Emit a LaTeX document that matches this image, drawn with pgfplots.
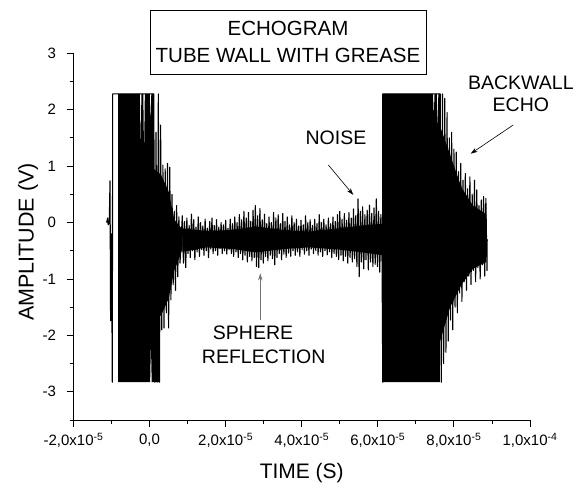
\documentclass[border=0pt]{standalone}
\usepackage{fontspec}
\setmainfont{Liberation Sans}
\usepackage{pgfplots}
\pgfplotsset{compat=1.18}
\usetikzlibrary{arrows.meta}
\newcommand{\annot}{\fontsize{19.5}{22}\selectfont}
\begin{document}
\begin{tikzpicture}[x=1pt,y=1pt]
\useasboundingbox (0,0) rectangle (581,-487);
\begin{axis}[
  at={(73.5pt,-420pt)}, anchor=south west,
  scale only axis, width=456.5pt, height=366.7pt,
  xmin=-20, xmax=100, ymin=-3.5, ymax=3,
  axis x line=bottom, axis y line=left,
  axis line style={-, line width=0.9pt},
  tick align=outside,
  major tick length=7pt, minor tick length=4pt,
  tick style={black, line width=0.9pt},
  xtick={-20,0,20,40,60,80,100},
  xticklabels={{-2,0x10\textsuperscript{-5}},{0,0},{2,0x10\textsuperscript{-5}},{4,0x10\textsuperscript{-5}},{6,0x10\textsuperscript{-5}},{8,0x10\textsuperscript{-5}},{1,0x10\textsuperscript{-4}}},
  minor xtick={-10,10,30,50,70,90},
  ytick={-3,-2,-1,0,1,2,3},
  yticklabels={-3,-2,-1,0,1,2,3},
  minor ytick={-3.5,-2.5,-1.5,-0.5,0.5,1.5,2.5},
  ticklabel style={font=\fontsize{15}{17}\selectfont},
  xticklabel style={yshift=-3pt},
  yticklabel style={xshift=-7pt},
  clip=false,
]
% saturated burst 1 with decay core
\addplot[fill=black, draw=none] coordinates {
(-8.3,-2.83) (-8.3,2.28) (-2.55,2.28) (-2.35,1.3) (-2.15,2.28) (-1.65,2.28) (-1.45,1.15) (-1.25,2.28)
(0.05,2.28) (0.25,1.75) (0.45,2.28) (1.1,2.28) (1.1,0.95) (3,0.85) (5,0.55) (6.5,0.05) (8.6,-0.12)
(8.6,-0.48) (6.5,-0.85) (5,-1.35) (3,-1.65) (2.7,-1.65) (2.7,-2.83) (0.55,-2.83) (0.35,-2.1) (0.15,-2.83)
} --cycle;
% noise core band
\addplot[fill=black, draw=none] coordinates {
(8.6,-0.1) (15,-0.15) (22,-0.13) (28,-0.07) (35,-0.13) (42,-0.16) (50,-0.1) (56,-0.05) (61.3,-0.02)
(61.3,-0.58) (56,-0.53) (50,-0.48) (42,-0.44) (35,-0.47) (28,-0.53) (22,-0.47) (15,-0.44) (8.6,-0.52)
} --cycle;
% saturated burst 2 with decay core
\addplot[fill=black, draw=none] coordinates {
(61.3,-2.83) (61.3,2.28) (74.5,2.28) (74.7,1.85) (74.9,2.28) (75.5,2.28) (75.7,1.6) (75.9,2.28) (76.4,2.28)
(76.4,1.7) (79,1.2) (82,0.62) (85,0.3) (88.5,0.15) (88.5,-0.7) (85,-0.82) (82,-1.1) (79,-1.5) (76.4,-2.1) (76.4,-2.83)
} --cycle;
% signal trace
\addplot[black, line width=1.1pt, line join=round] coordinates {
(-11.3,0) (-11.0,0.08) (-10.9,-0.04) (-10.6,0) (-10.4,0.74) (-10.25,-1.74) (-10.0,-0.2) (-9.8,-2.83) (-9.7,2.28) (-8.3,2.28)
(1.1,2.28) (1.4,-2.83) (1.7,1.6) (2.0,-2.83) (2.3,2.28) (2.6,-2.83) (2.9,1.73) (3.2,-1.9) (3.5,1.02) (3.8,-1.87)
(4.1,0.95) (4.4,-1.6) (4.7,1.05) (5.0,-1.87) (5.3,0.98) (5.6,-1.37) (5.9,0.5) (6.2,-1.1) (6.5,0.2) (6.8,-1.2)
(7.1,0.3) (7.4,-0.96) (7.7,0.1) (8.0,-0.72)
(8.6,0.12) (8.9,-0.72) (9.2,0.02) (9.5,-0.80) (9.8,0.08) (10.1,-0.55) (10.4,-0.05) (10.7,-0.62)
(11.0,0.15) (11.3,-0.50) (11.6,0.05) (11.9,-0.66) (12.2,-0.08) (12.5,-0.52) (12.8,0.10) (13.1,-0.60)
(13.4,0.0) (13.7,-0.48) (14.0,-0.06) (14.3,-0.58) (14.6,0.06) (14.9,-0.50) (15.2,-0.10) (15.5,-0.62)
(15.8,0.02) (16.1,-0.47) (16.4,0.08) (16.7,-0.55) (17.0,-0.05) (17.3,-0.50) (17.6,0.05) (17.9,-0.58)
(18.2,-0.08) (18.5,-0.46) (18.8,0.0) (19.1,-0.55) (19.4,-0.04) (19.7,-0.50) (20.0,0.04) (20.3,-0.56)
(20.6,-0.10) (20.9,-0.48) (21.2,0.06) (21.5,-0.55) (21.8,-0.02) (22.1,-0.60) (22.4,0.10) (22.7,-0.52)
(23.0,0.0) (23.3,-0.62) (23.6,0.14) (23.9,-0.55) (24.2,0.05) (24.5,-0.66) (24.8,0.20) (25.1,-0.58)
(25.4,0.08) (25.7,-0.70) (26.0,0.18) (26.3,-0.60) (26.6,0.02) (26.9,-0.68) (27.2,0.22) (27.5,-0.62)
(27.8,0.30) (28.1,-0.78) (28.4,0.12) (28.7,-0.80) (29.0,0.25) (29.3,-0.66) (29.6,0.05) (29.9,-0.72)
(30.2,0.15) (30.5,-0.60) (30.8,-0.02) (31.1,-0.68) (31.4,0.10) (31.7,-0.58) (32.0,0.0) (32.3,-0.64)
(32.6,0.18) (32.9,-0.75) (33.2,0.08) (33.5,-0.62) (33.8,0.14) (34.1,-0.55) (34.4,-0.02) (34.7,-0.66)
(35.0,0.16) (35.3,-0.56) (35.6,0.02) (35.9,-0.62) (36.2,0.10) (36.5,-0.54) (36.8,-0.04) (37.1,-0.60)
(37.4,0.12) (37.7,-0.50) (38.0,0.0) (38.3,-0.58) (38.6,0.06) (38.9,-0.52) (39.2,-0.06) (39.5,-0.60)
(39.8,0.04) (40.1,-0.48) (40.4,-0.04) (40.7,-0.56) (41.0,0.12) (41.3,-0.50) (41.6,0.0) (41.9,-0.58)
(42.2,0.05) (42.5,-0.47) (42.8,-0.05) (43.1,-0.55) (43.4,0.06) (43.7,-0.50) (44.0,-0.02) (44.3,-0.58)
(44.6,0.14) (44.9,-0.52) (45.2,0.0) (45.5,-0.60) (45.8,0.06) (46.1,-0.50) (46.4,-0.04) (46.7,-0.57)
(47.0,0.08) (47.3,-0.52) (47.6,-0.02) (47.9,-0.62) (48.2,0.10) (48.5,-0.55) (48.8,0.02) (49.1,-0.60)
(49.4,0.14) (49.7,-0.66) (50.0,0.20) (50.3,-0.58) (50.6,0.06) (50.9,-0.68) (51.2,0.16) (51.5,-0.60)
(51.8,0.04) (52.1,-0.72) (52.4,0.18) (52.7,-0.62) (53.0,0.08) (53.3,-0.70) (53.6,0.24) (53.9,-0.64)
(54.2,0.12) (54.5,-0.78) (54.8,0.42) (55.1,-0.96) (55.4,0.20) (55.7,-0.70) (56.0,0.28) (56.3,-0.82)
(56.6,0.14) (56.9,-0.66) (57.2,0.22) (57.5,-0.84) (57.8,0.31) (58.1,-0.70) (58.4,0.16) (58.7,-0.78)
(59.0,0.26) (59.3,-0.74) (59.6,0.42) (59.9,-0.78) (60.2,0.20) (60.5,-0.88) (60.8,0.14) (61.1,-0.60)
(61.3,-2.83) (61.3,2.28) (76.4,2.28)
(76.7,-2.83) (77.0,2.28) (77.3,-2.5) (77.6,2.2) (77.9,-2.3) (78.2,1.95) (78.5,-2.1) (78.8,1.5)
(79.1,-1.73) (79.4,1.6) (79.7,-1.9) (80.0,1.3) (80.3,-1.5) (80.6,1.25) (80.9,-1.6) (81.2,0.9)
(81.5,-1.25) (81.8,1.05) (82.1,-1.4) (82.4,0.75) (82.7,-1.05) (83.0,0.87) (83.3,-1.2) (83.6,0.6)
(83.9,-0.95) (84.2,0.81) (84.5,-1.1) (84.8,0.5) (85.1,-0.85) (85.4,0.75) (85.7,-1.05) (86.0,0.58)
(86.3,-0.8) (86.6,0.3) (86.9,-1.0) (87.2,0.4) (87.5,-0.75) (87.8,0.46) (88.1,-0.95) (88.4,0.43)
(88.7,-0.85) (88.75,-0.3)
};
% annotations
\node[font=\annot] at (axis cs:49.0,1.50) {NOISE};
\draw[-{Stealth[length=7pt,width=4.5pt]}, line width=0.6pt] (axis cs:47.0,1.02) -- (axis cs:53.55,0.49);
\node[font=\annot] at (axis cs:97.6,2.47) {BACKWALL};
\node[font=\annot] at (axis cs:97.6,2.08) {ECHO};
\draw[-{Stealth[length=7pt,width=4.5pt]}, line width=0.6pt] (axis cs:95.6,1.73) -- (axis cs:84.4,1.22);
\node[font=\annot] at (axis cs:27.2,-1.95) {SPHERE};
\node[font=\annot] at (axis cs:30.0,-2.38) {REFLECTION};
\draw[-{Stealth[length=7pt,width=4.5pt]}, line width=0.8pt, draw=black!55, fill=black!55] (axis cs:29.1,-1.73) -- (axis cs:29.1,-0.9);
\end{axis}
\node[font=\fontsize{21}{24}\selectfont] at (301.75,-473) {TIME (S)};
\node[rotate=90, font=\fontsize{21.5}{24}\selectfont] at (28,-242) {AMPLITUDE (V)};
\node[draw, line width=0.8pt, minimum width=276pt, minimum height=64pt, inner sep=0pt, align=center,
      font=\fontsize{20.5}{26.8}\selectfont] at (288,-42) {ECHOGRAM\\TUBE WALL WITH GREASE};
\end{tikzpicture}
\end{document}
